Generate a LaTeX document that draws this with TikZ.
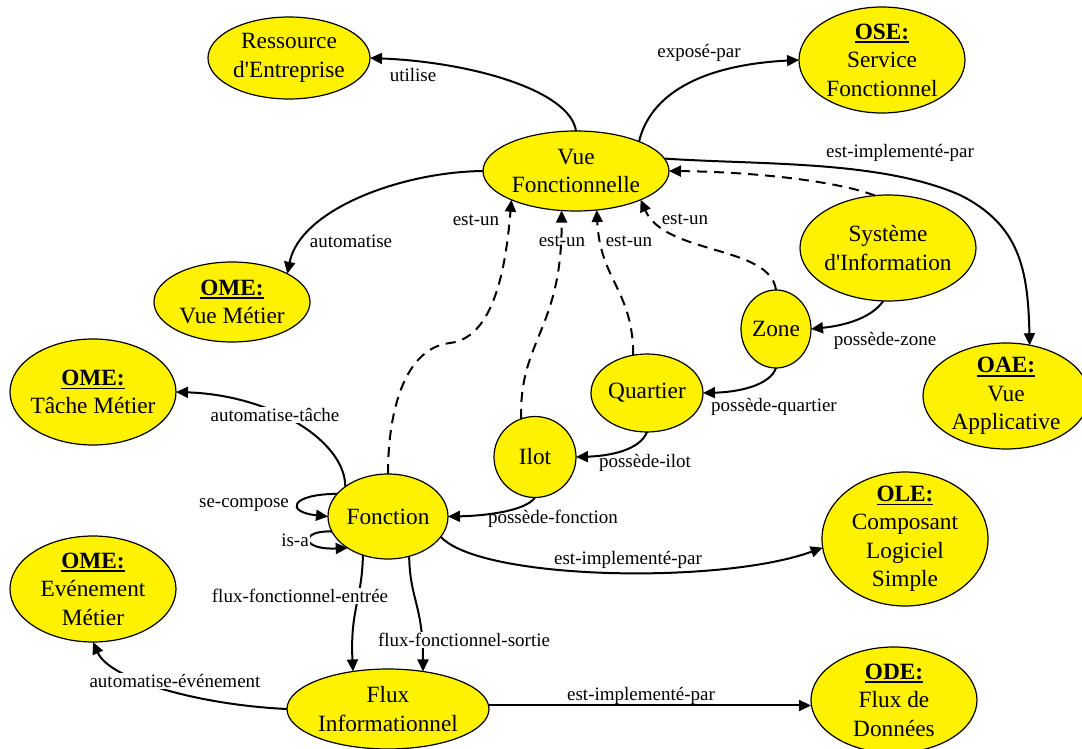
\documentclass[tikz,border=0pt]{standalone}
\usepackage{fontspec}
\setmainfont{Liberation Serif}
\usetikzlibrary{shapes.geometric,arrows.meta}
\newsavebox{\hdrbox}
\newcommand{\hdr}[1]{\sbox{\hdrbox}{\bfseries #1}\rlap{\rule[-4pt]{\wd\hdrbox}{1.8pt}}\usebox{\hdrbox}}
\tikzset{
  ent/.style={ellipse, draw=black, line width=1.2pt, fill=yellow, inner sep=0pt, outer sep=0pt},
  ntxt/.style={align=center, font=\fontsize{23.3}{28.5}\selectfont, inner sep=0pt},
  lbl/.style={font=\fontsize{19}{22}\selectfont, inner sep=1pt, fill=white},
  lbln/.style={font=\fontsize{19}{22}\selectfont, inner sep=1pt},
  conn/.style={line width=2pt, -{Triangle[length=12pt,width=11pt]}},
  dconn/.style={conn, dash pattern=on 10pt off 7pt},
}
\begin{document}
\begin{tikzpicture}[x=1pt,y=1pt]
\useasboundingbox (0,0) rectangle (1082,-749);
\fill[white] (0,0) rectangle (1082,-749);
% entities
\node[ent, minimum width=162pt, minimum height=82pt, label={[ntxt]center:Ressource\\d\textquotesingle Entreprise}] (res) at (289,-58) {};
\node[ent, minimum width=166pt, minimum height=106pt, label={[ntxt]center:\hdr{OSE:}\\Service\\Fonctionnel}] (ose) at (882,-60) {};
\node[ent, minimum width=186pt, minimum height=80pt, label={[ntxt]center:Vue\\Fonctionnelle}] (vf) at (576,-171) {};
\node[ent, minimum width=176pt, minimum height=106pt, label={[ntxt]center:Système\\d\textquotesingle Information}] (si) at (888,-248) {};
\node[ent, minimum width=70pt, minimum height=78pt, label={[ntxt]center:Zone}] (zone) at (776,-329) {};
\node[ent, minimum width=112pt, minimum height=78pt, label={[ntxt]center:Quartier}] (quart) at (647,-393) {};
\node[ent, minimum width=82pt, minimum height=81pt, label={[ntxt]center:Ilot}] (ilot) at (535,-457) {};
\node[ent, minimum width=120pt, minimum height=85pt, label={[ntxt]center:Fonction}] (fonc) at (388,-516.5) {};
\node[ent, minimum width=156pt, minimum height=80pt, label={[ntxt]center:\hdr{OME:}\\Vue Métier}] (omevm) at (232,-302) {};
\node[ent, minimum width=166pt, minimum height=106pt, label={[ntxt]center:\hdr{OME:}\\Tâche Métier}] (ometm) at (93,-392) {};
\node[ent, minimum width=166pt, minimum height=106pt, label={[ntxt]center:\hdr{OME:}\\Evénement\\Métier}] (omeev) at (93,-589) {};
\node[ent, minimum width=202pt, minimum height=80pt, label={[ntxt]center:Flux\\Informationnel}] (flux) at (388,-709) {};
\node[ent, minimum width=166pt, minimum height=106pt, label={[ntxt]center:\hdr{ODE:}\\Flux de\\Données}] (ode) at (894,-700) {};
\node[ent, minimum width=166pt, minimum height=134pt, label={[ntxt]center:\hdr{OLE:}\\Composant\\Logiciel\\Simple}] (ole) at (905,-539) {};
\node[ent, minimum width=166pt, minimum height=106pt, label={[ntxt]center:\hdr{OAE:}\\Vue\\Applicative}] (oae) at (1006,-396) {};
% connectors
\draw[conn] (vf.north) .. controls (570,-90) and (470,-62) .. (res.east);
\draw[conn] (vf.25) .. controls (650,-95) and (700,-65) .. (ose.west);
\draw[conn] (vf.8) .. controls (760,-165) and (880,-160) .. (960,-195) .. controls (1020,-225) and (1028,-270) .. (oae.65);
\draw[dconn] (si.104) .. controls (840,-182) and (760,-172) .. (vf.east);
\draw[conn] (vf.west) .. controls (400,-172) and (300,-210) .. (omevm.27);
\draw[conn] (si.265) .. controls (870,-320) and (840,-326) .. (zone.east);
\draw[conn] (zone.south) .. controls (770,-385) and (740,-392) .. (quart.east);
\draw[conn] (quart.south) .. controls (640,-450) and (610,-456) .. (ilot.east);
\draw[conn] (ilot.south) .. controls (525,-512) and (480,-516) .. (fonc.east);
\draw[dconn] (zone.north) .. controls (770,-245) and (665,-255) .. (vf.336);
\draw[dconn] (quart.110) .. controls (633,-290) and (600,-280) .. (vf.298);
\draw[dconn] (ilot.110) .. controls (519,-340) and (562,-330) .. (vf.250);
\draw[dconn] (fonc.north) .. controls (388,-410) and (405,-348) .. (450,-343) .. controls (490,-338) and (505,-280) .. (vf.204);
\draw[conn] (fonc.145) .. controls (345,-440) and (270,-395) .. (ometm.east);
\draw[conn] (fonc.156) .. controls (290,-494) and (285,-512) .. (fonc.west);
\draw[conn] (fonc.195) .. controls (300,-530) and (300,-550) .. (fonc.218);
\draw[conn] (fonc.237) .. controls (362,-600) and (350,-610) .. (flux.133);
\draw[conn] (fonc.298) .. controls (410,-600) and (423,-605) .. (flux.47);
\draw[conn] (fonc.339) .. controls (480,-580) and (720,-585) .. (ole.186);
\draw[conn] (flux.2) -- (flux.2 -| ode.west);
\draw[conn] (flux.west) .. controls (200,-705) and (110,-680) .. (omeev.south);
% labels
\node[lbln] (l1) at (413,-75) {utilise};
\node[lbln] (l2) at (699,-53) {exposé-par};
\node[lbln] (l3) at (900,-153) {est-implementé-par};
\node[lbln] (l5) at (351,-241) {automatise};
\node[lbln] (l6) at (885,-341) {possède-zone};
\node[lbln] (l7) at (774,-407) {possède-quartier};
\node[lbln] (l8) at (645,-463) {possède-ilot};
\node[lbln] (l9) at (553,-519) {possède-fonction};
\node[lbln] (l10) at (685,-219) {est-un};
\node[lbln] (l11) at (629,-241) {est-un};
\node[lbln] (l12) at (562,-241) {est-un};
\node[lbln] (l13) at (476,-220) {est-un};
\node[lbl] (l14) at (275,-415) {automatise-tâche};
\node[lbl] (l15) at (244,-505) {se-compose};
\node[lbl] (l16) at (295,-540) {is-a};
\node[lbl] (l17) at (300,-596) {flux-fonctionnel-entrée};
\node[lbl] (l18) at (464,-640) {flux-fonctionnel-sortie};
\node[lbln] (l19) at (628,-560) {est-implementé-par};
\node[lbln] (l20) at (641,-696) {est-implementé-par};
\node[lbl] (l21) at (175,-681) {automatise-événement};
\end{tikzpicture}
\end{document}
